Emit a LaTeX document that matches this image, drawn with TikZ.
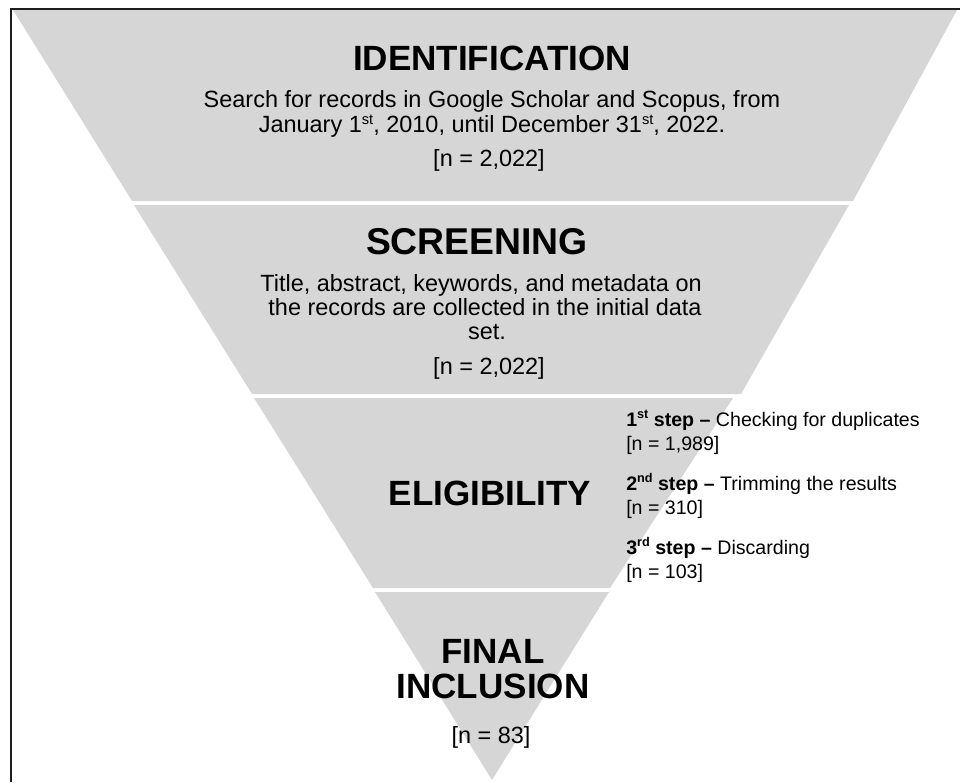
\documentclass[tikz,border=0pt]{standalone}
\usepackage{fontspec}
\setmainfont{Liberation Sans}
\definecolor{funnelgray}{RGB}{214,214,214}
\definecolor{framecol}{RGB}{30,30,30}
% small raised ordinal endings for the body text and the step list
\newcommand{\bodyord}[1]{\raisebox{5.5pt}{\fontsize{11}{11}\selectfont #1}}
\newcommand{\stepord}[1]{\raisebox{5.5pt}{\fontsize{9.5}{9.5}\selectfont\bfseries #1}}
\begin{document}
\begin{tikzpicture}[x=0.75pt,y=-0.75pt,
  layer/.style={fill=funnelgray, draw=none},
  heading/.style={font=\fontsize{26.3}{30}\selectfont\bfseries, anchor=base, inner sep=0pt},
  body/.style={font=\fontsize{17.6}{20}\selectfont, anchor=base, inner sep=0pt},
  steptext/.style={font=\fontsize{14.7}{17}\selectfont, anchor=base west, inner sep=0pt}]
\useasboundingbox (0,0) rectangle (960,782);

% funnel layers
\fill[layer] (13,10) -- (957,10) -- (853,201) -- (132,201) -- cycle;
\fill[layer] (134,205) -- (849,205) -- (741,394) -- (252,394) -- cycle;
\fill[layer] (254,398) -- (733,398) -- (610,588) -- (373,588) -- cycle;
\fill[layer] (375,592) -- (609,592) -- (492,780) -- cycle;

% frame
\draw[framecol, line width=1.5pt] (11,782) -- (11,9) -- (960,9);

% identification
\node[heading] (idhead) at (492,70) {IDENTIFICATION};
\node[body] (idline1) at (492,107) {Search for records in Google Scholar and Scopus, from};
\node[body] (idline2) at (492,132) {January 1\bodyord{st}, 2010, until December 31\bodyord{st}, 2022.};
\node[body] (idn) at (489,166) {[n = 2,022]};

% screening
\node[heading, font=\fontsize{28}{32}\selectfont\bfseries] (scrhead) at (477,254) {SCREENING};
\node[body] (scrline1) at (481,291) {Title, abstract, keywords, and metadata on};
\node[body] (scrline2) at (485,315) {the records are collected in the initial data};
\node[body] (scrline3) at (487,339) {set.};
\node[body] (scrn) at (489,374) {[n = 2,022]};

% eligibility
\node[heading] (elighead) at (490,505) {ELIGIBILITY};
\node[steptext] (step1) at (626,426) {\textbf{1\stepord{st} step –} Checking for duplicates};
\node[steptext] (step1n) at (626,450) {[n = 1,989]};
\node[steptext] (step2) at (626,490) {\textbf{2\stepord{nd} step –} Trimming the results};
\node[steptext] (step2n) at (626,514) {[n = 310]};
\node[steptext] (step3) at (626,554) {\textbf{3\stepord{rd} step –} Discarding};
\node[steptext] (step3n) at (626,578) {[n = 103]};

% final inclusion
\node[heading] (finhead1) at (493,663) {FINAL};
\node[heading] (finhead2) at (493,698) {INCLUSION};
\node[body] (finn) at (491,743) {[n = 83]};
\end{tikzpicture}
\end{document}
